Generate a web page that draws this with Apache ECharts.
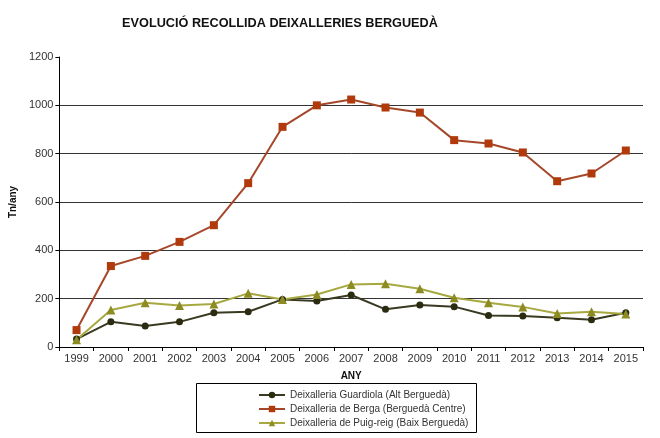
<!DOCTYPE html>
<html><head><meta charset="utf-8">
<script src="https://cdn.jsdelivr.net/npm/echarts@6/dist/echarts.min.js"></script>
<style>html,body{margin:0;padding:0;background:#fff}#c{width:660px;height:438px}</style>
</head><body><div id="c"></div>
<script>
const years = ['1999','2000','2001','2002','2003','2004','2005','2006','2007','2008','2009','2010','2011','2012','2013','2014','2015'];
const guardiola = [33,104,87,104,142,146,197,190,215,156,174,167,130,128,121,113,142];
const berga = [70,335,377,435,504,678,911,1000,1024,991,970,856,842,805,686,718,813];
const puigreig = [30,153,183,172,178,222,197,217,259,262,241,204,183,166,139,146,137];
const seriesNames = ['Deixalleria Guardiola (Alt Berguedà)','Deixalleria de Berga (Berguedà Centre)','Deixalleria de Puig-reig (Baix Berguedà)'];

const chart = echarts.init(document.getElementById('c'), null, {renderer:'canvas'});
const font = 'Liberation Sans, Arial, sans-serif';
chart.setOption({
  animation:false,
  backgroundColor:'#fff',
  title:{text:'EVOLUCIÓ RECOLLIDA DEIXALLERIES BERGUEDÀ',left:275,textAlign:'center',top:12,
    textStyle:{fontFamily:font,fontSize:12.7,fontWeight:'bold',color:'#111'}},
  grid:{left:58,right:17,top:57,bottom:91},
  graphic:[{type:'rect',shape:{x:196.5,y:383.5,width:280,height:49},style:{fill:'none',stroke:'#000',lineWidth:1}}],
  legend:{orient:'vertical',left:258,top:390,itemGap:4,itemWidth:26,itemHeight:8,padding:0,
    textStyle:{fontFamily:font,fontSize:10,color:'#333'},data:seriesNames},
  xAxis:{type:'category',data:years,boundaryGap:true,
    name:'ANY',nameLocation:'middle',nameGap:24,nameTextStyle:{fontFamily:font,fontSize:10,fontWeight:'bold',color:'#111'},
    axisLine:{lineStyle:{color:'#000',width:1}},
    axisTick:{show:true,alignWithLabel:false,length:4,lineStyle:{color:'#000'}},
    axisLabel:{fontFamily:font,fontSize:11,color:'#333',margin:6,interval:0}},
  yAxis:{type:'value',min:0,max:1200,interval:200,
    name:'Tn/any',nameLocation:'middle',nameGap:41,nameTextStyle:{fontFamily:font,fontSize:10,fontWeight:'bold',color:'#111'},
    axisLine:{show:true,lineStyle:{color:'#000',width:1}},
    axisTick:{show:true,length:4,lineStyle:{color:'#000'}},
    axisLabel:{fontFamily:font,fontSize:11,color:'#333',margin:6,formatter:function(v){return String(v);}},
    splitLine:{show:true,showMaxLine:false,lineStyle:{color:'#333',width:1}}},
  series:[
    {name:seriesNames[0],type:'line',data:guardiola,symbol:'circle',symbolSize:7,
      lineStyle:{color:'#3a3a22',width:2},itemStyle:{color:'#2b2b12'}},
    {name:seriesNames[1],type:'line',data:berga,symbol:'rect',symbolSize:8,
      lineStyle:{color:'#a5482a',width:2},itemStyle:{color:'#b03a0c'}},
    {name:seriesNames[2],type:'line',data:puigreig,symbol:'triangle',symbolSize:9,
      lineStyle:{color:'#a8a840',width:2},itemStyle:{color:'#8c8c22'}}
  ]
});
</script></body></html>
